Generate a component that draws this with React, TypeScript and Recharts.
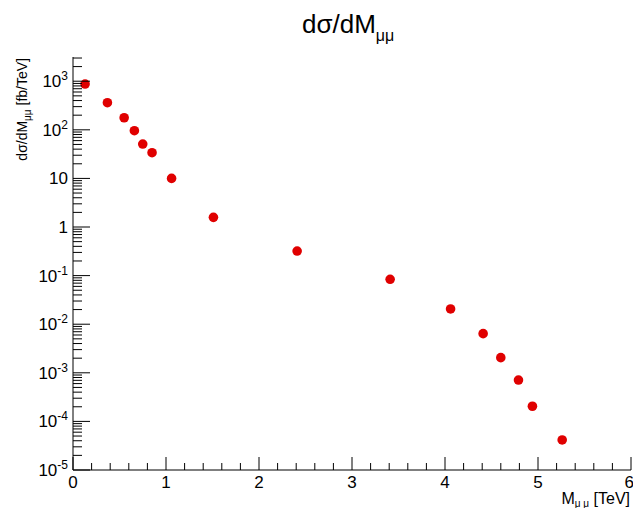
import React from 'react';
import { ScatterChart, Scatter, XAxis, YAxis } from 'recharts';

// dilepton mass (TeV) and cross section (fb/TeV)
const massTeV: number[] = [0.13, 0.37, 0.55, 0.66, 0.75, 0.85, 1.06, 1.51, 2.41, 3.41, 4.06, 4.41, 4.6, 4.79, 4.94, 5.26];
const xsec: number[] = [875, 361, 177, 96, 51, 33.8, 10.0, 1.58, 0.32, 0.084, 0.0206, 0.0064, 0.00205, 7.1e-4, 2.05e-4, 4.15e-5];

const xMajorTicks: number[] = [0, 1, 2, 3, 4, 5, 6];
const yDecades: number[] = [-5, -4, -3, -2, -1, 0, 1, 2, 3];
const yMax = 3150;

const data = massTeV.map((m, i) => ({ m, s: xsec[i] }));

const xTicks: number[] = [];
for (let i = 0; i <= 30; i++) xTicks.push(i / 5);

const yTicks: number[] = [];
yDecades.forEach(d => {
    for (let k = 1; k <= 9; k++) {
        const v = k * Math.pow(10, d);
        if (v <= yMax) yTicks.push(v);
    }
});

const FONT = '"Liberation Sans", Arial, Helvetica, sans-serif';

const isMajorX = (v: number) => xMajorTicks.some(t => Math.abs(t - v) < 1e-6);
const isMajorY = (v: number) => {
    const l = Math.log10(v);
    return Math.abs(l - Math.round(l)) < 1e-6;
};

const XTick = (props: any) => {
    const { x, y, payload } = props;
    const major = isMajorX(payload.value);
    const last = Math.abs(payload.value - 6) < 1e-6;
    return (
        <g>
            <line x1={x} x2={x} y1={y} y2={y - (major ? 13 : 7)} stroke="#000" strokeWidth={1} />
            {major && (
                <text x={last ? x + 3 : x} y={y + 18} textAnchor={last ? 'end' : 'middle'}
                    fontSize={17} fontFamily={FONT} fill="#000">
                    {payload.value}
                </text>
            )}
        </g>
    );
};

const YTick = (props: any) => {
    const { x, y, payload } = props;
    const v: number = payload.value;
    const major = isMajorY(v);
    const exp = Math.round(Math.log10(v));
    let label: React.ReactNode = null;
    if (major) {
        if (exp === 0) label = '1';
        else if (exp === 1) label = '10';
        else label = (
            <>
                10<tspan dy={-7} fontSize={12}>{exp}</tspan>
            </>
        );
    }
    return (
        <g>
            <line x1={x} x2={x + (major ? 17 : 9)} y1={y} y2={y} stroke="#000" strokeWidth={1} />
            {major && (
                <text x={x - 5} y={y + 6} textAnchor="end" fontSize={17} fontFamily={FONT} fill="#000">
                    {label}
                </text>
            )}
        </g>
    );
};

const Dot = (props: any) => <circle cx={props.cx} cy={props.cy} r={4.8} fill="#e00000" />;

const App: React.FC = () => {
    return (
        <div style={{ position: 'absolute', left: 0, top: 0, width: 633, height: 508, background: '#fff' }}>
            <ScatterChart width={633} height={508} margin={{ top: 57, right: 2, bottom: 0, left: 0 }}>
                <XAxis
                    dataKey="m" type="number" domain={[0, 6]} ticks={xTicks} interval={0}
                    height={38} tickSize={0} tickMargin={0} tickLine={false}
                    axisLine={{ stroke: '#000' }} tick={<XTick />} allowDataOverflow
                />
                <XAxis xAxisId="top" orientation="top" type="number" domain={[0, 6]} height={0}
                    tick={false} tickLine={false} axisLine={{ stroke: '#000' }} />
                <YAxis
                    dataKey="s" type="number" scale="log" domain={[1e-5, yMax]} ticks={yTicks} interval={0}
                    width={73} tickSize={0} tickMargin={0} tickLine={false}
                    axisLine={{ stroke: '#000' }} tick={<YTick />} allowDataOverflow
                />
                <YAxis yAxisId="right" orientation="right" type="number" width={0}
                    tick={false} tickLine={false} axisLine={{ stroke: '#000' }} />
                <Scatter data={data} shape={<Dot />} isAnimationActive={false} />
            </ScatterChart>
            <svg width={633} height={508} style={{ position: 'absolute', left: 0, top: 0, pointerEvents: 'none' }}>
                <text x={302} y={33} fontSize={26} fontFamily={FONT} fill="#000">
                    dσ/dM<tspan dy={8} fontSize={16}>μμ</tspan>
                </text>
                <text transform="translate(27,58) rotate(-90)" textAnchor="end" fontSize={14} fontFamily={FONT} fill="#000">
                    dσ/dM<tspan dy={4} fontSize={10}>μμ</tspan><tspan dy={-4}> [fb/TeV]</tspan>
                </text>
                <text x={630} y={504} textAnchor="end" fontSize={16} fontFamily={FONT} fill="#000">
                    M<tspan dy={3} fontSize={10}>μ μ</tspan><tspan dy={-3}> [TeV]</tspan>
                </text>
            </svg>
        </div>
    );
};

export default App;
